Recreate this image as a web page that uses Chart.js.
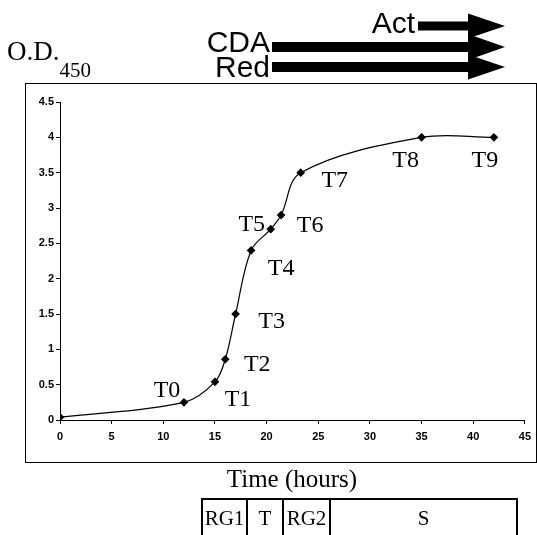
<!DOCTYPE html>
<html>
<head>
<meta charset="utf-8">
<script src="https://cdn.jsdelivr.net/npm/chart.js@4"></script>
<style>
body { margin: 0; background: #fff; }
</style>
</head>
<body>
<canvas id="c" width="537" height="535"></canvas>
<script>
// growth curve data (time in hours, OD450)
var hours = [0, 12, 15, 16, 17, 18.5, 20.4, 21.4, 23.3, 35, 42];
var od450 = [0.04, 0.25, 0.54, 0.86, 1.5, 2.4, 2.7, 2.9, 3.5, 4, 4];
var pointNames = ['', 'T0', 'T1', 'T2', 'T3', 'T4', 'T5', 'T6', 'T7', 'T8', 'T9'];
var xTicks = [0, 5, 10, 15, 20, 25, 30, 35, 40, 45];
var yTicks = [0, 0.5, 1, 1.5, 2, 2.5, 3, 3.5, 4, 4.5];
var phases = ['RG1', 'T', 'RG2', 'S'];

var points = [];
for (var i = 0; i < hours.length; i++) {
    points.push({x: hours[i], y: od450[i]});
}

// where each T label sits relative to its point (px)
var nameOffsets = [[0,0],[-17,-12],[23,18],[32,5],[36,8],[30,18],[-19,-4],[29,11],[34,8],[-16,23],[-9,23]];

var serif = '"Liberation Serif", "Times New Roman", serif';
var sans = '"Liberation Sans", Arial, sans-serif';

function arrow(ctx, x1, x2, y, thick, headX, tipX, headH) {
    ctx.fillRect(x1, y - thick / 2, headX - x1 + 2, thick);
    ctx.beginPath();
    ctx.moveTo(headX, y - headH / 2);
    ctx.lineTo(tipX, y);
    ctx.lineTo(headX, y + headH / 2);
    ctx.closePath();
    ctx.fill();
}

var extras = {
    id: 'extras',
    afterDraw: function(chart) {
        var ctx = chart.ctx;
        ctx.save();
        ctx.fillStyle = '#000';
        ctx.strokeStyle = '#000';

        // frame
        ctx.lineWidth = 1;
        ctx.strokeRect(25.5, 83.5, 511, 379);

        // point names
        var meta = chart.getDatasetMeta(0);
        ctx.font = '24px ' + serif;
        ctx.textAlign = 'center';
        ctx.textBaseline = 'middle';
        for (var i = 0; i < pointNames.length; i++) {
            if (!pointNames[i]) continue;
            var p = meta.data[i];
            ctx.fillText(pointNames[i], p.x + nameOffsets[i][0], p.y + nameOffsets[i][1]);
        }

        // y title
        ctx.textAlign = 'left';
        ctx.textBaseline = 'alphabetic';
        ctx.font = '27px ' + serif;
        ctx.fillText('O.D.', 7, 60);
        var w = ctx.measureText('O.D.').width;
        ctx.font = '21px ' + serif;
        ctx.fillText('450', 7 + w, 77);

        // arrows
        ctx.font = '30px ' + sans;
        ctx.textAlign = 'right';
        ctx.fillText('Act', 415, 33);
        ctx.fillText('CDA', 270, 52);
        ctx.fillText('Red', 270, 77);
        arrow(ctx, 418, 470, 26, 9, 468, 505, 25);
        arrow(ctx, 272, 470, 47, 10, 468, 505, 26);
        arrow(ctx, 272, 470, 67, 10, 468, 505, 25);

        // x title
        ctx.font = '25px ' + serif;
        ctx.textAlign = 'center';
        ctx.fillText('Time (hours)', 292, 487);

        // phase table
        var edges = [202, 247, 283, 330, 517];
        ctx.lineWidth = 2;
        ctx.beginPath();
        ctx.moveTo(edges[0], 540);
        ctx.lineTo(edges[0], 499);
        ctx.lineTo(edges[4], 499);
        ctx.lineTo(edges[4], 540);
        for (var k = 1; k < 4; k++) {
            ctx.moveTo(edges[k], 499);
            ctx.lineTo(edges[k], 540);
        }
        ctx.stroke();
        ctx.font = '21px ' + serif;
        for (var j = 0; j < phases.length; j++) {
            ctx.fillText(phases[j], (edges[j] + edges[j + 1]) / 2, 525);
        }
        ctx.restore();
    }
};

new Chart(document.getElementById('c'), {
    type: 'line',
    data: {
        datasets: [{
            data: points,
            borderColor: '#000',
            backgroundColor: '#000',
            borderWidth: 1.2,
            tension: 0.35,
            pointStyle: 'rectRot',
            pointRadius: 3.5,
            pointHoverRadius: 3.5
        }]
    },
    options: {
        responsive: false,
        animation: false,
        events: [],
        layout: { padding: { left: 25, top: 102, right: 9, bottom: 73 } },
        plugins: { legend: { display: false }, tooltip: { enabled: false } },
        scales: {
            x: {
                type: 'linear',
                min: 0,
                max: 45,
                afterBuildTicks: function(s) { s.ticks = xTicks.map(function(v) { return {value: v}; }); },
                afterFit: function(s) { s.height = 42; },
                grid: { display: true, drawOnChartArea: false, color: '#000', tickLength: 4 },
                border: { color: '#000', width: 1 },
                ticks: { color: '#000', font: { family: sans, size: 11, weight: 'bold' }, padding: 6, maxRotation: 0,
                    callback: function(v) { return String(v); } }
            },
            y: {
                min: 0,
                max: 4.5,
                afterBuildTicks: function(s) { s.ticks = yTicks.map(function(v) { return {value: v}; }); },
                afterFit: function(s) { s.width = 35; },
                grid: { display: true, drawOnChartArea: false, color: '#000', tickLength: 4 },
                border: { color: '#000', width: 1 },
                ticks: { color: '#000', font: { family: sans, size: 11, weight: 'bold' }, padding: 2,
                    callback: function(v) { return String(v); } }
            }
        }
    },
    plugins: [extras]
});
</script>
</body>
</html>
